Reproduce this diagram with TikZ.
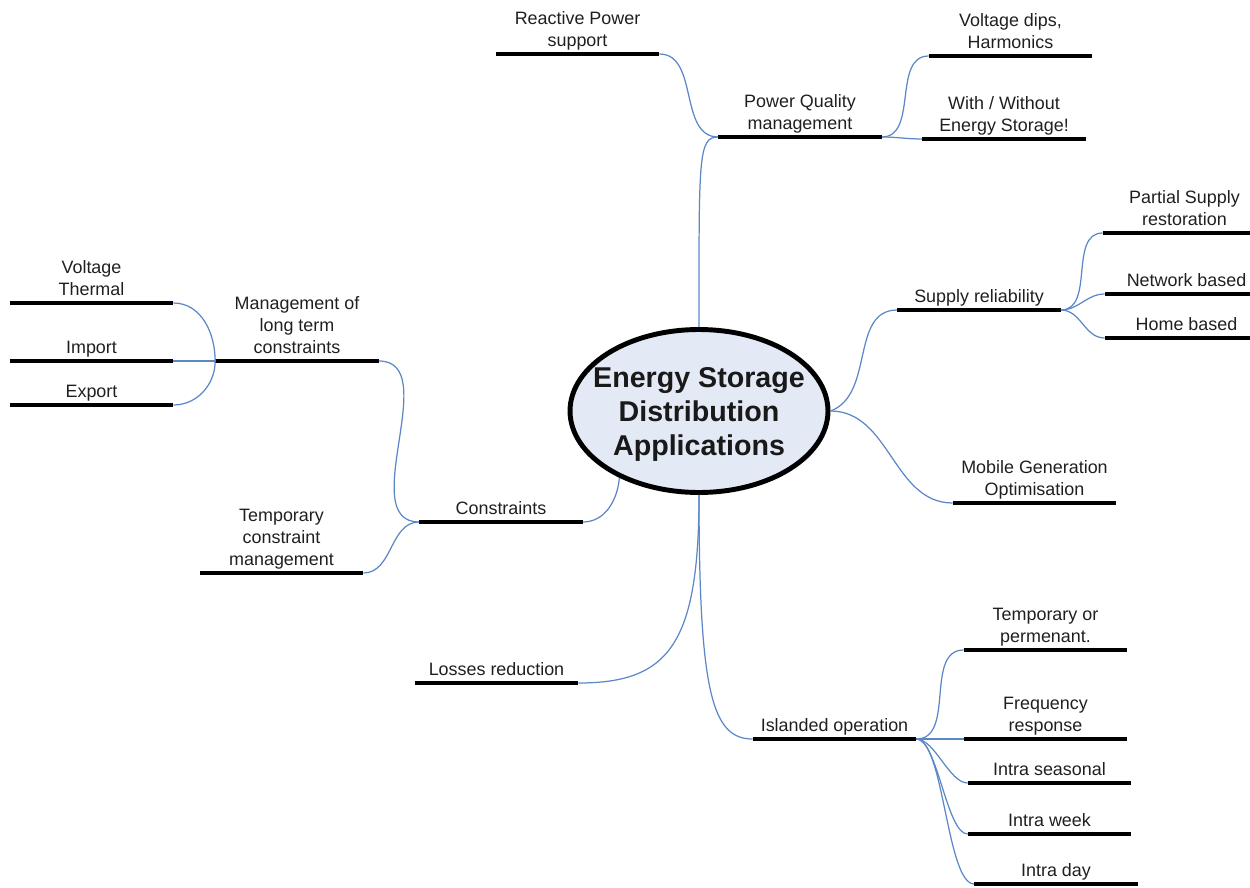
\documentclass[tikz,border=0pt]{standalone}
\usepackage{fontspec}
\setmainfont{Liberation Sans}
\usetikzlibrary{shapes.geometric}
\definecolor{linkblue}{HTML}{5B87C7}
\definecolor{corefill}{HTML}{E3EAF5}

\begin{document}
\begin{tikzpicture}[x=0.02cm, y=0.02cm,
    leaf/.style={anchor=south, minimum width=3.26cm, align=center, text depth=0pt, inner xsep=0pt, inner ysep=4.3pt, font=\fontsize{10.2}{12.5}\selectfont, text=black!88},
    bar/.style={line width=2.8pt},
    link/.style={draw=linkblue, line width=0.7pt},
    core/.style={ellipse, draw, line width=2.8pt, fill=corefill, minimum width=5.16cm, minimum height=3.26cm, inner sep=0pt},
    corelabel/.style={align=center, yshift=-1.8pt, font=\fontsize{16.3}{19.3}\selectfont\bfseries, text=black!90}]
  \useasboundingbox (0,0) rectangle (1250,887);

  % centre
  \node[core, label={[corelabel]center:{Energy Storage\\Distribution\\Applications}}] (core) at (699,476) {};

  % top
  \node[leaf] (pq) at (800,750) {Power Quality\\management};
  \node[leaf] (rps) at (577.5,833) {Reactive Power\\support};
  \node[leaf] (vd) at (1010.5,831) {Voltage dips,\\Harmonics};
  \node[leaf] (ww) at (1004,748) {With / Without\\Energy Storage!};

  % right
  \node[leaf] (sr) at (979,577) {Supply reliability};
  \node[leaf] (psr) at (1184.5,654) {Partial Supply\\restoration};
  \node[leaf] (nb) at (1186.5,593) {Network based};
  \node[leaf] (hb) at (1186.5,549) {Home based};
  \node[leaf] (mg) at (1034.5,384) {Mobile Generation\\Optimisation};

  % left
  \node[leaf] (con) at (501,365) {Constraints};
  \node[leaf] (mlt) at (297,526) {Management of\\long term\\constraints};
  \node[leaf] (vt) at (91.5,584) {Voltage\\Thermal};
  \node[leaf] (imp) at (91.5,526) {Import};
  \node[leaf] (exp) at (91.5,482) {Export};
  \node[leaf] (tcm) at (281.5,314) {Temporary\\constraint\\management};
  \node[leaf] (lr) at (496.5,204) {Losses reduction};

  % bottom
  \node[leaf] (io) at (834.5,148) {Islanded operation};
  \node[leaf] (tp) at (1045.5,237) {Temporary or\\permenant.};
  \node[leaf] (fr) at (1045.5,148) {Frequency\\response};
  \node[leaf] (is) at (1049.5,104) {Intra seasonal};
  \node[leaf] (iw) at (1049.5,53) {Intra week};
  \node[leaf] (id) at (1056,3) {Intra day};

  \foreach \n in {pq,rps,vd,ww,sr,psr,nb,hb,mg,con,mlt,vt,imp,exp,tcm,lr,io,tp,fr,is,iw,id}
    \draw[bar] (\n.south west) -- (\n.south east);

  % links
  \draw[link] (core.north) .. controls +(0,170) and +(-20,0) .. (pq.south west);
  \draw[link] (rps.south east) to[out=0,in=180] (pq.south west);
  \foreach \n in {vd,ww}
    \draw[link] (pq.south east) to[out=0,in=180] (\n.south west);
  \draw[link] (core.east) to[out=20,in=180] (sr.south west);
  \draw[link] (core.east) to[out=0,in=180] (mg.south west);
  \foreach \n in {psr,nb,hb}
    \draw[link] (sr.south east) to[out=0,in=180] (\n.south west);
  \draw[link] (core.220) to[out=265,in=0] (con.south east);
  \draw[link] (mlt.south east) to[out=0,in=180] (con.south west);
  \draw[link] (tcm.south east) to[out=0,in=180] (con.south west);
  \draw[link] (vt.south east) to[out=0,in=90] (mlt.south west);
  \draw[link] (imp.south east) -- (mlt.south west);
  \draw[link] (exp.south east) to[out=0,in=270] (mlt.south west);
  \draw[link] (core.south) .. controls +(0,-150) and +(90,0) .. (lr.south east);
  \draw[link] (core.south) .. controls +(0,-200) and +(-40,0) .. (io.south west);
  \foreach \n/\l in {tp/1,fr/1,is/0.7,iw/0.5,id/0.45}
    \draw[link] (io.south east) to[out=0,in=180,looseness=\l] (\n.south west);
\end{tikzpicture}
\end{document}
